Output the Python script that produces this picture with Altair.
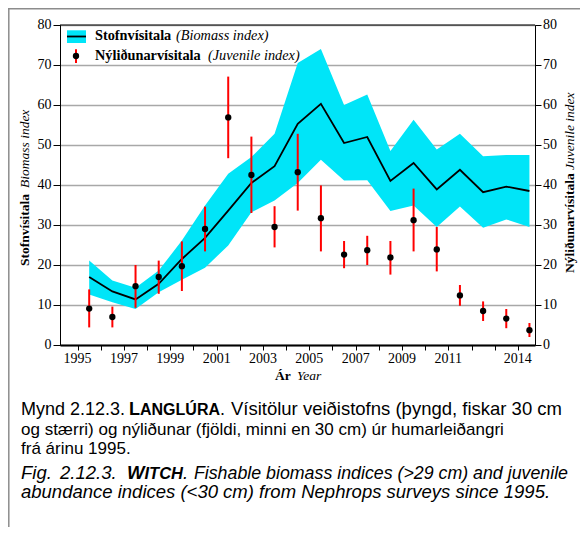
import altair as alt
import pandas as pd

# ---------------- data ----------------
years = list(range(1995, 2015))
biomass = [17.0, 13.4, 11.4, 15.3, 21.5, 26.8, 33.6, 40.5, 44.7, 55.3,
           60.3, 50.5, 52.0, 41.0, 45.5, 38.9, 43.8, 38.2, 39.6, 38.5]
bio_low = [12.6, 10.7, 9.0, 13.2, 16.3, 19.3, 24.9, 33.2, 36.1, 40.5,
           46.3, 41.1, 41.2, 33.5, 34.9, 29.5, 34.6, 29.3, 31.4, 29.5]
bio_high = [21.1, 16.1, 14.3, 18.6, 26.1, 34.9, 42.8, 47.0, 52.8, 70.5,
            74.0, 60.0, 62.6, 48.5, 56.3, 48.9, 52.8, 47.2, 47.5, 47.5]
juvenile = [9.1, 7.0, 14.7, 17.0, 19.7, 29.0, 56.9, 42.5, 29.5, 43.2,
            31.7, 22.6, 23.7, 21.9, 31.2, 23.9, 12.4, 8.5, 6.6, 3.7]
juv_low = [4.4, 4.4, 9.3, 12.8, 13.5, 23.4, 46.7, 33.0, 24.4, 33.6,
           23.4, 19.2, 20.0, 17.6, 23.4, 18.4, 9.8, 6.0, 4.2, 2.0]
juv_high = [13.9, 9.6, 20.0, 21.1, 25.9, 34.6, 67.1, 52.1, 34.7, 52.8,
            39.9, 26.0, 27.3, 26.0, 39.1, 29.5, 15.0, 10.9, 9.0, 5.5]
tick_years = list(range(1995, 2015))
labeled_years = [1995, 1997, 1999, 2001, 2003, 2005, 2007, 2009, 2011, 2014]
y_ticks = [0, 10, 20, 30, 40, 50, 60, 70, 80]

df = pd.DataFrame({
    "yr": [y + 0.5 for y in years],
    "bio": biomass, "blo": bio_low, "bhi": bio_high,
    "juv": juvenile, "jlo": juv_low, "jhi": juv_high,
})
xlab_df = pd.DataFrame({"yr": labeled_years, "lab": [str(v) for v in labeled_years]})
ylab_df = pd.DataFrame({"v": y_ticks, "lab": [str(v) for v in y_ticks]})
dummy = pd.DataFrame({"a": [0]})

SERIF = "Liberation Serif"
SANS = "Liberation Sans"
CYAN = "#00E5F8"
RED = "#FF0000"
GRID = "#A8A8A8"

W, H = 475, 320

xscale = alt.Scale(domain=[1994.24, 2014.74], nice=False, zero=False)
yscale = alt.Scale(domain=[0, 80], nice=False, zero=True)

xaxis = alt.Axis(values=tick_years, title=None, grid=False, tickSize=5,
                 tickColor="black", domainColor="black", domainWidth=2,
                 labels=False)
xenc = alt.X("yr:Q", scale=xscale, axis=xaxis)

left_axis = alt.Axis(values=y_ticks, title=None, orient="left", grid=True,
                     gridColor=GRID, gridWidth=1.5, tickSize=7,
                     tickColor="black", domainColor="black", labels=False)
right_axis = alt.Axis(values=y_ticks, title=None, orient="right", grid=False,
                      tickSize=6, tickColor="black", domainColor="black",
                      labels=False)

band = alt.Chart(df).mark_area(color=CYAN, opacity=1).encode(
    x=xenc, y=alt.Y("blo:Q", scale=yscale, axis=left_axis), y2="bhi:Q")
line = alt.Chart(df).mark_line(color="black", strokeWidth=1.8).encode(
    x=xenc, y=alt.Y("bio:Q", scale=yscale, axis=None))
err = alt.Chart(df).mark_rule(color=RED, strokeWidth=2).encode(
    x=xenc, y=alt.Y("jlo:Q", scale=yscale, axis=None), y2="jhi:Q")
pts = alt.Chart(df).mark_circle(color="black", size=40, opacity=1).encode(
    x=xenc, y=alt.Y("juv:Q", scale=yscale, axis=right_axis))

# tick labels (serif), placed through the same scales
xlabels = alt.Chart(xlab_df).mark_text(
    font=SERIF, fontSize=14, color="black", baseline="middle", align="center"
).encode(x=alt.X("yr:Q", scale=xscale, axis=xaxis), y=alt.value(H + 13.5),
         text="lab:N")
ylabels_l = alt.Chart(ylab_df).mark_text(
    font=SERIF, fontSize=14, color="black", baseline="middle", align="right"
).encode(y=alt.Y("v:Q", scale=yscale, axis=None), x=alt.value(-8.5),
         text="lab:N")
ylabels_r = alt.Chart(ylab_df).mark_text(
    font=SERIF, fontSize=14, color="black", baseline="middle", align="left"
).encode(y=alt.Y("v:Q", scale=yscale, axis=None), x=alt.value(W + 8),
         text="lab:N")

top_border = alt.Chart(dummy).mark_rule(color="black", strokeWidth=1).encode(
    x=alt.value(0), x2=alt.value(W), y=alt.value(0))


def txt(s, x, y, size=14, weight="normal", style="normal", font=SERIF,
        angle=0, baseline="middle", align="left"):
    return alt.Chart(dummy).mark_text(
        text=s, font=font, fontSize=size, fontWeight=weight, fontStyle=style,
        angle=angle, baseline=baseline, align=align, color="black"
    ).encode(x=alt.value(x), y=alt.value(y))


# legend (drawn by hand)
leg_rect = alt.Chart(dummy).mark_rect(color=CYAN).encode(
    x=alt.value(7), x2=alt.value(26), y=alt.value(5.3), y2=alt.value(18))
leg_line = alt.Chart(dummy).mark_rule(color="black", strokeWidth=1.8).encode(
    x=alt.value(7), x2=alt.value(26), y=alt.value(11.5))
leg_err = alt.Chart(dummy).mark_rule(color=RED, strokeWidth=2).encode(
    x=alt.value(16), y=alt.value(24.3), y2=alt.value(38))
leg_pt = alt.Chart(dummy).mark_circle(color="black", size=40, opacity=1).encode(
    x=alt.value(16), y=alt.value(31))

LEG = 14.3
legend_texts = [
    txt("Stofnvísitala", 35, 11, LEG, "bold"),
    txt("(Biomass index)", 116, 11, LEG, style="italic"),
    txt("Nýliðunarvísitala", 35, 31, LEG, "bold"),
    txt("(Juvenile index)", 148, 31, LEG, style="italic"),
]

# axis titles
AT = 13.5
axis_titles = [
    txt("Stofnvísitala", -35, 241, AT, "bold", angle=270),
    txt("Biomass index", -35, 163, AT, style="italic", angle=270),
    txt("Nýliðunarvísitala", 510, 248, AT, "bold", angle=270),
    txt("Juvenile index", 510, 145, AT, style="italic", angle=270),
    txt("Ár", 215, 351, AT, "bold"),
    txt("Year", 237, 351, AT, style="italic"),
]

# caption (page x minus 60, page y minus 25)
CX = -39
B1, B2, B3, B4, B5 = 390, 409.5, 429, 453.5, 473.3
caption = [
    txt("Mynd 2.12.3.", CX, B1, 18, font=SANS, baseline="alphabetic"),
    txt("L", 69, B1, 18, "bold", font=SANS, baseline="alphabetic"),
    txt("ANGLÚRA", 80, B1, 16, "bold", font=SANS, baseline="alphabetic"),
    txt(".", 160, B1, 18, font=SANS, baseline="alphabetic"),
    txt("Vísitölur veiðistofns (þyngd, fiskar 30 cm", 502, B1, 18.5,
        font=SANS, baseline="alphabetic", align="right"),
    txt("og stærri) og nýliðunar (fjöldi, minni en 30 cm) úr humarleiðangri",
        CX, B2, 17, font=SANS, baseline="alphabetic"),
    txt("frá árinu 1995.", CX, B3, 17, font=SANS, baseline="alphabetic"),
    txt("Fig.", CX, B4, 18.5, style="italic", font=SANS, baseline="alphabetic"),
    txt("2.12.3.", 0, B4, 18.5, style="italic", font=SANS,
        baseline="alphabetic"),
    txt("W", 67, B4, 18.5, "bold", "italic", font=SANS, baseline="alphabetic"),
    txt("ITCH", 84.5, B4, 16.5, "bold", "italic", font=SANS,
        baseline="alphabetic"),
    txt(".", 123, B4, 18.5, style="italic", font=SANS, baseline="alphabetic"),
    txt("Fishable biomass indices (>29 cm) and juvenile", 508, B4, 17.8,
        style="italic", font=SANS, baseline="alphabetic", align="right"),
    txt("abundance indices (<30 cm) from Nephrops surveys since 1995.", CX,
        B5, 18.5, style="italic", font=SANS, baseline="alphabetic"),
]

# outer frame lines (gray)
frame_left = alt.Chart(dummy).mark_rule(color="#8C8C8C", strokeWidth=1.5).encode(
    x=alt.value(-51.2), y=alt.value(-17), y2=alt.value(502))
frame_top = alt.Chart(dummy).mark_rule(color="#8C8C8C", strokeWidth=1.5).encode(
    x=alt.value(-52), x2=alt.value(520), y=alt.value(-16.2))

chart = alt.layer(
    band, line, err, pts, top_border, xlabels, ylabels_l, ylabels_r,
    leg_rect, leg_line, leg_err, leg_pt,
    *legend_texts, *axis_titles, *caption,
    frame_left, frame_top,
).resolve_scale(y="independent").properties(
    width=W, height=H,
    autosize=alt.AutoSizeParams(type="none"),
    padding={"left": 52, "top": 17, "right": 45, "bottom": 182},
).configure_view(stroke="black", strokeWidth=1)

chart.save("out.html", embed_options={"renderer": "svg", "actions": False})
